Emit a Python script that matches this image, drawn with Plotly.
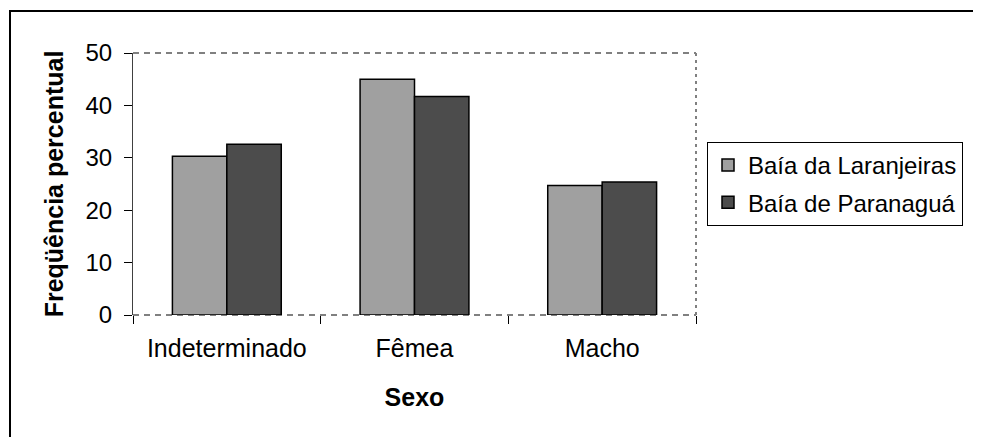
import plotly.graph_objects as go

# Data
categories = ["Indeterminado", "Fêmea", "Macho"]
laranjeiras = [30.3, 45.0, 24.7]
paranagua = [32.6, 41.7, 25.4]
series_names = ["Baía da Laranjeiras", "Baía de Paranaguá"]
y_ticks = [0, 10, 20, 30, 40, 50]

FONT = "Liberation Sans, Arial, sans-serif"
# the page body has an 8px margin, so the figure is shifted by that much
OFF = 8
W, H = 981 - OFF, 437 - OFF
L, T = 133 - OFF, 53 - OFF
R, B = 285, 122
pw, ph = W - L - R, H - T - B


def px_x(px):
    # page pixel -> paper x
    return (px - OFF - L) / pw


def px_y(py):
    # page pixel -> paper y
    return (H + OFF - B - py) / ph


fig = go.Figure()
fig.add_trace(go.Bar(
    x=categories, y=laranjeiras, name=series_names[0],
    marker=dict(color="#a0a0a0", line=dict(color="black", width=1.5)),
    legendgroup="a",
))
fig.add_trace(go.Bar(
    x=categories, y=paranagua, name=series_names[1],
    marker=dict(color="#4c4c4c", line=dict(color="black", width=1.5)),
    legendgroup="b",
))

shapes = [
    # dashed plot-area frame
    dict(type="line", xref="paper", yref="paper", x0=0, x1=1, y0=1, y1=1,
         line=dict(color="#808080", width=2, dash="6px,5px"), layer="below"),
    dict(type="line", xref="paper", yref="paper", x0=0, x1=1, y0=0, y1=0,
         line=dict(color="#808080", width=2, dash="6px,5px"), layer="below"),
    dict(type="line", xref="paper", yref="paper", x0=1, x1=1, y0=0, y1=1,
         line=dict(color="#808080", width=2, dash="3px,4px"), layer="below"),
    # outer chart border
    dict(type="rect", xref="paper", yref="paper",
         x0=px_x(10), x1=px_x(1100), y0=px_y(600), y1=px_y(11),
         line=dict(color="black", width=2), fillcolor="rgba(0,0,0,0)"),
]

fig.update_layout(
    width=W, height=H,
    margin=dict(l=L, r=R, t=T, b=B),
    paper_bgcolor="white", plot_bgcolor="white",
    font=dict(family=FONT, color="black"),
    barmode="group", bargap=0.42, bargroupgap=0,
    shapes=shapes,
    legend=dict(
        x=px_x(707), y=px_y(142), xanchor="left", yanchor="top",
        bordercolor="black", borderwidth=1, bgcolor="white",
        font=dict(size=24), tracegroupgap=3, traceorder="grouped",
        itemwidth=30,
    ),
    xaxis=dict(
        title=dict(text="<b>Sexo</b>", font=dict(size=25), standoff=27),
        tickfont=dict(size=25),
        tickson="boundaries", ticks="outside", ticklen=8, tickcolor="black",
        ticklabelstandoff=16,
        showline=False, showgrid=False, zeroline=False,
    ),
    yaxis=dict(
        title=dict(text="<b>Freqüência percentual</b>", font=dict(size=25), standoff=14),
        range=[0, 50], tickvals=y_ticks, tickfont=dict(size=24),
        ticks="outside", ticklen=8, tickcolor="black",
        ticklabelstandoff=7,
        showline=True, linecolor="#404040", linewidth=1,
        showgrid=False, zeroline=False,
    ),
)

fig.write_html("out.html")
